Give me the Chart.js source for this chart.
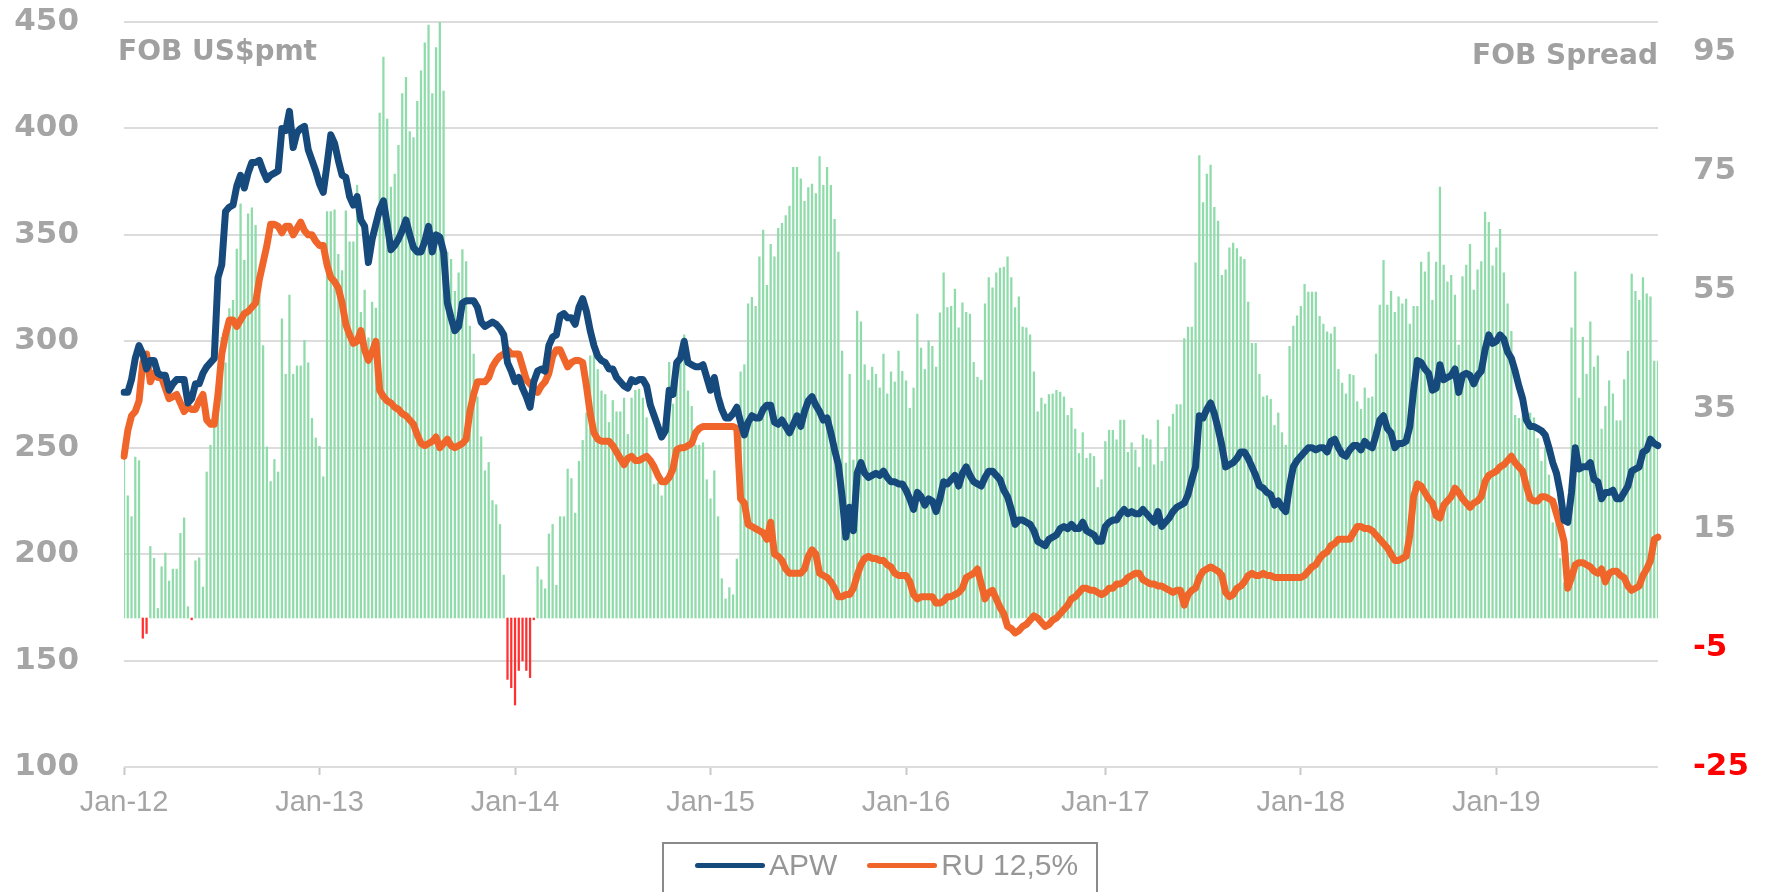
<!DOCTYPE html>
<html lang="en">
  <head>
    <meta charset="UTF-8" />
    <title>APW vs RU 12,5% FOB</title>
    <script src="https://cdn.jsdelivr.net/npm/chart.js"></script>
    <style>
      html, body { margin: 0; padding: 0; background: #fff; overflow: hidden; }
      #wrap { position: relative; width: 1766px; height: 892px; }
      #legend {
        position: absolute; left: 662px; top: 842px; width: 436px; height: 70px;
        box-sizing: border-box; border: 2px solid #8a8a8a; padding: 6px 0 0 31px;
        display: flex; white-space: nowrap;
        font: 30px "Liberation Sans", Arial, sans-serif; color: #969696;
      }
      .item { display: flex; flex-shrink: 0; align-items: center; height: 30px; margin-right: 30px; }
      .swatch { width: 70px; height: 5px; border-radius: 3px; margin-right: 4px; }
    </style>
  </head>
  <body>
    <div id="wrap">
      <canvas id="chart" width="1766" height="892"></canvas>
      <div id="legend"></div>
    </div>
    <script>
      // weekly FOB prices, US$ per tonne, first week of Jan 2012 onwards
      const apw = [
        276, 276, 282, 292, 298, 294, 287, 291, 291, 285,
        284, 284, 277, 280, 282, 282, 282, 271, 273, 280,
        280, 285, 288, 290, 292, 330, 336, 361, 363, 364,
        373, 378, 372, 379, 384, 384, 385, 380, 376, 378,
        379, 380, 400, 399, 408, 391, 398, 400, 401, 390,
        385, 380, 374, 370, 383, 397, 393, 385, 378, 377,
        368, 364, 368, 357, 354, 337, 348, 355, 362, 366,
        355, 343, 345, 348, 352, 357, 350, 344, 342, 342,
        347, 354, 342, 350, 349, 342, 318, 311, 305, 307,
        318, 319, 319, 319, 316, 309, 307, 308, 309, 308,
        306, 303, 290, 286, 281, 283, 278, 274, 269, 281,
        286, 287, 286, 298, 302, 303, 312, 313, 311, 311,
        308, 316, 320, 314, 305, 298, 293, 291, 290, 287,
        287, 283, 281, 279, 278, 282, 281, 282, 282, 279,
        270, 265, 260, 255, 258, 277, 275, 290, 292, 300,
        290, 289, 288, 288, 289, 283, 277, 283, 274, 268,
        264, 264, 266, 269, 262, 256, 262, 265, 264, 264,
        268, 270, 270, 262, 261, 263, 260, 257, 261, 265,
        260, 267, 272, 274, 270, 267, 263, 264, 257, 249,
        242, 227, 208, 222, 211, 238, 243, 238, 236, 237,
        238, 237, 239, 236, 234, 234, 233, 233, 230, 226,
        221, 229, 227, 223, 226, 225, 220, 226, 234, 233,
        235, 237, 232, 238, 241, 237, 234, 233, 232, 236,
        239, 239, 237, 235, 230, 227, 221, 214, 216, 216,
        215, 214, 211, 206, 205, 204, 207, 208, 209, 212,
        213, 212, 214, 212, 212, 215, 211, 210, 209, 206,
        206, 213, 215, 216, 216, 219, 221, 219, 220, 219,
        219, 221, 219, 217, 215, 220, 213, 215, 217, 220,
        222, 223, 224, 228, 235, 241, 265, 264, 268, 271,
        266, 259, 251, 241, 242, 243, 245, 248, 248, 245,
        241, 237, 232, 231, 229, 228, 223, 225, 222, 220,
        232, 241, 244, 246, 248, 250, 250, 249, 250, 250,
        248, 253, 254, 250, 247, 246, 249, 251, 251, 249,
        253, 251, 250, 256, 263, 265, 259, 257, 250, 252,
        252, 253, 260, 277, 291, 290, 287, 285, 277, 278,
        289, 282, 283, 284, 287, 276, 284, 285, 284, 280,
        284, 286, 296, 303, 299, 300, 303, 301, 295, 292,
        286, 279, 273, 263, 260, 260, 259, 258, 256, 250,
        243, 238, 229, 216, 215, 229, 250, 240, 241, 241,
        243, 235, 234, 226, 229, 229, 230, 226, 226, 229,
        232, 239, 240, 241, 248, 249, 254, 252, 251
      ];

      const ru = [
        246, 258, 265, 267, 272, 290, 294, 281, 285, 283,
        283, 278, 273, 274, 275, 271, 267, 269, 268, 268,
        272, 275, 263, 261, 261, 275, 294, 303, 310, 310,
        307, 310, 313, 314, 316, 318, 329, 337, 345, 355,
        355, 354, 351, 354, 354, 350, 353, 356, 352, 350,
        350, 347, 345, 345, 336, 330, 328, 325, 318, 308,
        303, 299, 300, 305, 296, 291, 295, 300, 277, 274,
        272, 271, 269, 268, 266, 265, 263, 261, 256, 252,
        251, 252, 253, 255, 250, 252, 254, 251, 250, 251,
        252, 254, 267, 275, 281, 281, 281, 283, 288, 291,
        293, 294, 296, 294, 294, 294, 288, 282, 280, 278,
        276, 279, 281, 285, 293, 296, 296, 292, 288, 290,
        291, 291, 290, 279, 266, 257, 254, 253, 253, 253,
        251, 248, 245, 242, 245, 246, 244, 244, 245, 246,
        244, 241, 237, 234, 234, 236, 240, 249, 250, 250,
        251, 252, 257, 259, 260, 260, 260, 260, 260, 260,
        260, 260, 260, 259, 226, 224, 214, 213, 212, 211,
        210, 207, 215, 200, 199, 197, 193, 191, 191, 191,
        191, 193, 199, 202, 200, 191, 190, 189, 187, 184,
        180, 180, 181, 181, 184, 190, 195, 198, 199, 198,
        198, 197, 197, 195, 194, 191, 190, 190, 190, 187,
        181, 179, 180, 180, 180, 180, 177, 177, 178, 180,
        180, 181, 182, 184, 189, 190, 191, 193, 186, 179,
        182, 183, 179, 175, 172, 166, 165, 163, 164, 166,
        167, 169, 171, 170, 168, 166, 167, 169, 170, 172,
        174, 176, 179, 180, 182, 184, 184, 183, 183, 182,
        181, 182, 184, 184, 186, 186, 187, 189, 190, 191,
        191, 188, 187, 186, 186, 185, 185, 184, 183, 182,
        183, 183, 176, 181, 183, 184, 189, 192, 193, 194,
        193, 192, 190, 182, 180, 181, 184, 185, 187, 190,
        191, 190, 190, 191, 190, 190, 189, 189, 189, 189,
        189, 189, 189, 189, 190, 192, 194, 195, 198, 200,
        201, 204, 205, 207, 207, 207, 207, 210, 213, 213,
        212, 212, 211, 209, 207, 205, 203, 200, 197, 197,
        198, 199, 209, 227, 233, 232, 229, 226, 224, 218,
        217, 223, 225, 227, 231, 229, 226, 224, 222, 224,
        225, 227, 234, 237, 238, 239, 241, 242, 244, 246,
        243, 241, 239, 232, 226, 225, 225, 227, 227, 226,
        225, 219, 213, 206, 184, 189, 195, 196, 196, 195,
        194, 192, 191, 193, 187, 191, 192, 192, 190, 189,
        185, 183, 184, 185, 190, 193, 197, 207, 208
      ];

      // weekly FOB spread, right-hand axis
      const spread = [
        26.7, 20.5, 17, 27, 26.4, -3.4, -2.6, 12, 10, 1.6,
        8.6, 10.9, 6.2, 8.2, 8.2, 14.2, 16.8, 1.9, -0.3, 9.6,
        10.1, 5.2, 24.5, 29, 32.3, 41.4, 47.1, 42.8, 51.9, 53.3,
        61.9, 69.5, 60, 67.8, 68.8, 65.9, 54.2, 45.7, 28.7, 22.9,
        26.6, 24.5, 50.2, 40.9, 54.2, 40.9, 42.3, 42.3, 46.6, 42.8,
        33.5, 30.2, 28.8, 23.7, 68.2, 68.2, 68.5, 61, 58.3, 68.3,
        63.1, 63.1, 72.6, 51.3, 55, 47, 53, 52, 84.7, 94.1,
        83.7, 72.3, 74.5, 79.3, 88, 90.7, 81.6, 80.6, 86.7, 91.8,
        96.5, 99.5, 88, 95.7, 100, 88.4, 61.4, 60.2, 54.8, 57.9,
        61.8, 59.8, 49, 44.3, 37.1, 30.4, 24.7, 26.1, 19.7, 19,
        15.7, 7.2, -10.3, -11.7, -14.6, -8.8, -7.2, -8.8, -10, -0.3,
        8.6, 6.4, 4.9, 14.1, 15.7, 5.5, 17, 17, 25, 23.4,
        17.6, 26.3, 29.8, 34.4, 44, 44.8, 41.7, 38.1, 37.5, 32.8,
        36.5, 34.6, 34.6, 36.9, 30.8, 36.9, 38.2, 38.4, 36.9, 33.6,
        26.8, 22.4, 22.7, 20.5, 23, 42.9, 35.9, 39.9, 42.9, 47.5,
        38.1, 35.5, 29, 29, 29.4, 23.2, 20, 24.7, 17, 6.6,
        3.2, 5.1, 3.9, 9.9, 41.3, 42.5, 52.7, 53.8, 52.3, 60.6,
        65.1, 55.8, 62.7, 60.6, 65.4, 66.2, 67.5, 69.1, 75.6, 75.6,
        73.7, 69.9, 72.2, 72.8, 71.2, 77.4, 72.6, 75.6, 72.6, 66.9,
        61.4, 44.8, 26, 40.9, 26.5, 51.5, 49.7, 42.5, 39.9, 42.1,
        40.9, 38.6, 44.3, 37.6, 41.3, 39.6, 44.8, 41.4, 39.8, 35.2,
        38.6, 51, 45.3, 41.7, 46.5, 45.6, 42.1, 51.2, 57.9, 52.1,
        52.3, 55.2, 48.7, 52.9, 51.3, 51, 42.9, 40.4, 39.9, 52.7,
        57.1, 55.4, 57.9, 58.7, 58.9, 60.6, 57.1, 52.1, 53.9, 48.8,
        48.7, 47.5, 41.3, 34.6, 36.9, 35.9, 37.5, 37.6, 38.2, 37.9,
        37.1, 34, 35.2, 31.7, 27.6, 31.1, 26.8, 27.6, 27.1, 21.9,
        23.2, 29.6, 31.5, 31.5, 29.9, 33.2, 33.2, 27.8, 29.4, 28.2,
        25.3, 30.7, 30.1, 29.9, 25.7, 33.2, 26.3, 28.6, 32.1, 34.2,
        35.8, 35.8, 46.9, 48.8, 48.8, 59.6, 77.6, 69.7, 74.5, 76,
        68.9, 66.6, 57.5, 58.4, 62.1, 62.9, 62, 60.6, 60.2, 53,
        46.1, 46.1, 40.9, 37.1, 37.3, 36.7, 32.3, 34.4, 31.1, 29,
        45.6, 49, 50.7, 52.3, 56, 54.7, 54.7, 54.7, 50.6, 49.3,
        48, 47.7, 48.8, 41.7, 39.4, 37.6, 40.9, 40.7, 36.3, 35,
        38.6, 36.9, 37.1, 44.3, 52.5, 60, 52.5, 54.8, 51.3, 53.9,
        52.7, 53.5, 49.3, 52.3, 52.3, 59.7, 58.1, 61.4, 53.3, 59.7,
        72.3, 59.2, 56.4, 57.5, 54.2, 45.8, 57.3, 59.2, 62.7, 55,
        58.4, 59.8, 68.1, 66.4, 59.1, 62.1, 65.2, 57.9, 52.7, 48.1,
        34, 33.5, 34, 33.6, 34.4, 33.6, 30.1, 26.3, 28.6, 24,
        16, 17.8, 10, 5.9, 10.9, 48.7, 58.1, 36.9, 47.1, 40.9,
        49.7, 42.1, 44, 31.7, 35.5, 39.8, 37.6, 33.1, 33.1, 40,
        44.8, 57.7, 54.8, 53.3, 57.1, 54.4, 53.9, 43.1, 43.1
      ];

      const spreadTicks = [-25, -5, 15, 35, 55, 75, 95];
      const firstWeek = Date.UTC(2012, 0, 6);

      // one label per week, "YYYY-MM-DD"
      const weeks = apw.map((_, i) =>
        new Date(firstWeek + i * 7 * 864e5).toISOString().slice(0, 10)
      );
      const yearStart = (i) => weeks[i].slice(5, 7) === "01" && +weeks[i].slice(8, 10) <= 7;

      const grey = "#a5a5a5";

      // fixed axis sizes; drop the label overhang padding Chart.js adds
      const fixWidth = (w) => (s) => {
        s.width = w;
        s.paddingTop = 0;
        s.paddingBottom = 0;
      };

      const axisNotes = {
        id: "axisNotes",
        afterDraw(chart) {
          const { ctx, chartArea } = chart;
          ctx.save();
          ctx.font = 'bold 28px "DejaVu Sans"';
          ctx.fillStyle = "#a0a0a0";
          ctx.textAlign = "left";
          ctx.fillText("FOB US$pmt", chartArea.left - 6, 60);
          ctx.textAlign = "right";
          ctx.fillText("FOB Spread", chartArea.right, 64);
          ctx.restore();
        },
      };

      const chart = new Chart(document.getElementById("chart"), {
        type: "bar",
        data: {
          labels: weeks,
          datasets: [
            {
              type: "line",
              label: "APW",
              data: apw,
              yAxisID: "y",
              borderColor: "#174a7c",
              backgroundColor: "#174a7c",
              borderWidth: 7,
              pointRadius: 0,
              tension: 0,
              borderJoinStyle: "round",
              borderCapStyle: "round",
              order: 1,
            },
            {
              type: "line",
              label: "RU 12,5%",
              data: ru,
              yAxisID: "y",
              borderColor: "#f0652a",
              backgroundColor: "#f0652a",
              borderWidth: 7,
              pointRadius: 0,
              tension: 0,
              borderJoinStyle: "round",
              borderCapStyle: "round",
              order: 2,
            },
            {
              label: "FOB Spread",
              data: spread,
              yAxisID: "y1",
              backgroundColor: (c) => (c.raw < 0 ? "#ff3030" : "#8fdcaa"),
              barThickness: 1.6,
              order: 3,
            },
          ],
        },
        options: {
          responsive: false,
          animation: false,
          layout: { padding: { top: 22 } },
          plugins: { legend: { display: false }, tooltip: { enabled: false } },
          scales: {
            x: {
              offset: false,
              grid: {
                offset: false,
                drawOnChartArea: false,
                tickLength: 8,
                tickWidth: 2,
                tickColor: (c) => (yearStart(c.index) ? "#c8c8c8" : "rgba(0,0,0,0)"),
              },
              border: { display: false },
              ticks: {
                autoSkip: false,
                maxRotation: 0,
                minRotation: 0,
                padding: 11,
                color: grey,
                font: { family: "Liberation Sans", size: 29 },
                callback: (v, i) => (yearStart(i) ? "Jan-" + weeks[i].slice(2, 4) : ""),
              },
              afterFit: (s) => {
                s.height = 125;
                s.paddingLeft = 0;
                s.paddingRight = 0;
              },
            },
            y: {
              position: "left",
              min: 100,
              max: 450,
              ticks: {
                stepSize: 50,
                padding: 45,
                color: grey,
                font: { family: "DejaVu Sans", size: 31, weight: "bold" },
              },
              grid: { color: "#dcdcdc", lineWidth: 2, drawTicks: false },
              border: { display: false },
              afterFit: fixWidth(124),
            },
            y1: {
              position: "right",
              min: -25,
              max: 100,
              afterBuildTicks: (s) => { s.ticks = spreadTicks.map((v) => ({ value: v })); },
              ticks: {
                padding: 35,
                color: (c) => (c.tick.value < 0 ? "#ff0000" : grey),
                font: { family: "DejaVu Sans", size: 31, weight: "bold" },
              },
              grid: { display: false, drawTicks: false },
              border: { display: false },
              afterFit: fixWidth(108),
            },
          },
        },
        plugins: [axisNotes],
      });

      // legend box under the axis
      const legendBox = document.getElementById("legend");
      chart.data.datasets
        .filter((d) => d.type === "line")
        .forEach((d) => {
          const item = document.createElement("span");
          item.className = "item";
          const swatch = document.createElement("span");
          swatch.className = "swatch";
          swatch.style.background = d.borderColor;
          item.append(swatch, document.createTextNode(d.label));
          legendBox.append(item);
        });
    </script>
  </body>
</html>
